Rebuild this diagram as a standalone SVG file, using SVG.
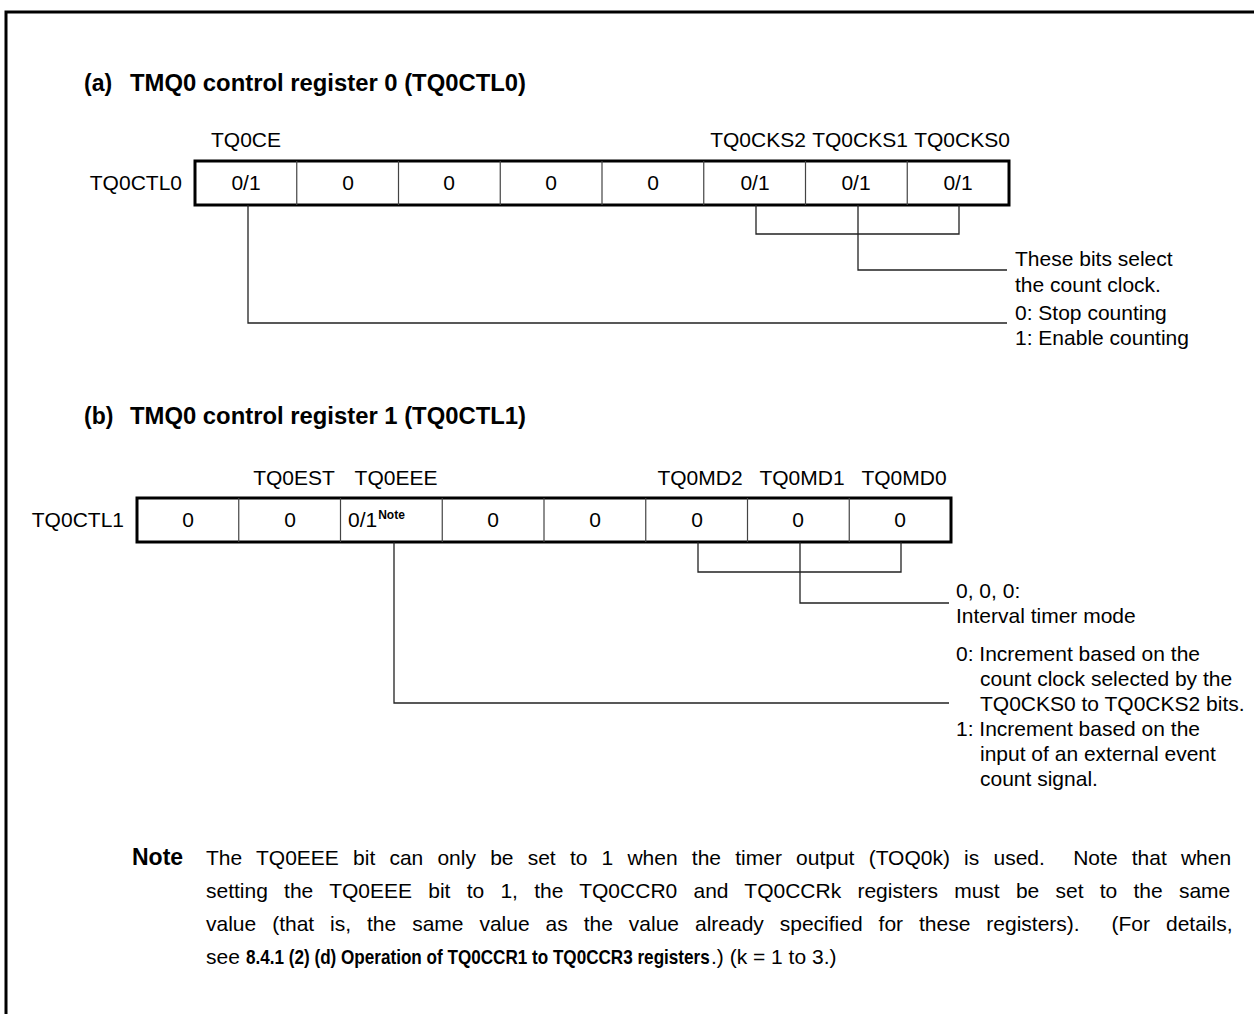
<svg xmlns="http://www.w3.org/2000/svg" width="1254" height="1014" viewBox="0 0 1254 1014">
<style>
text{font-family:"Liberation Sans",Arial,sans-serif;fill:#000}
.h{font-size:23px;font-weight:bold}
.l{font-size:21px}
.c{font-size:21px;text-anchor:middle}
.r{font-size:21px;text-anchor:end}
.n{font-size:21px}
.b{font-weight:bold}
.nb{font-size:23px;font-weight:bold}
.sup{font-size:12px;font-weight:bold}
.box{fill:#fff;stroke:#000;stroke-width:3}
.div{stroke:#444;stroke-width:1.2}
.con{fill:none;stroke:#222;stroke-width:1.3}
</style>
<rect width="1254" height="1014" fill="#fff"/>
<path d="M6,1014 V12 H1254" fill="none" stroke="#000" stroke-width="3"/>

<g id="headerA">
<text class="h" x="84" y="91">(a)</text>
<text class="h" x="130" y="91" textLength="396" lengthAdjust="spacingAndGlyphs">TMQ0 control register 0 (TQ0CTL0)</text>
</g>

<g id="regA">
<text class="c" x="246" y="147">TQ0CE</text>
<text class="c" x="758" y="147">TQ0CKS2</text>
<text class="c" x="860" y="147">TQ0CKS1</text>
<text class="c" x="962" y="147">TQ0CKS0</text>
<text class="r" x="182" y="190">TQ0CTL0</text>
<rect class="box" x="195" y="161" width="814" height="44"/>
<path class="div" d="M296.75,161V205M398.5,161V205M500.25,161V205M602,161V205M703.75,161V205M805.5,161V205M907.25,161V205"/>
<text class="c" x="246" y="190">0/1</text>
<text class="c" x="348" y="190">0</text>
<text class="c" x="449" y="190">0</text>
<text class="c" x="551" y="190">0</text>
<text class="c" x="653" y="190">0</text>
<text class="c" x="755" y="190">0/1</text>
<text class="c" x="856" y="190">0/1</text>
<text class="c" x="958" y="190">0/1</text>
</g>

<g id="descA">
<text class="l" x="1015" y="266">These bits select</text>
<text class="l" x="1015" y="292">the count clock.</text>
<text class="l" x="1015" y="320">0: Stop counting</text>
<text class="l" x="1015" y="345">1: Enable counting</text>
</g>

<g id="headerB">
<text class="h" x="84" y="424">(b)</text>
<text class="h" x="130" y="424" textLength="396" lengthAdjust="spacingAndGlyphs">TMQ0 control register 1 (TQ0CTL1)</text>
</g>

<g id="regB">
<text class="c" x="294" y="485">TQ0EST</text>
<text class="c" x="396" y="485">TQ0EEE</text>
<text class="c" x="700" y="485">TQ0MD2</text>
<text class="c" x="802" y="485">TQ0MD1</text>
<text class="c" x="904" y="485">TQ0MD0</text>
<text class="r" x="124" y="527">TQ0CTL1</text>
<rect class="box" x="137" y="498" width="814" height="44"/>
<path class="div" d="M238.75,498V542M340.5,498V542M442.25,498V542M544,498V542M645.75,498V542M747.5,498V542M849.25,498V542"/>
<text class="c" x="188" y="527">0</text>
<text class="c" x="290" y="527">0</text>
<text class="l" x="348" y="527">0/1<tspan class="sup" dx="1" dy="-8">Note</tspan></text>
<text class="c" x="493" y="527">0</text>
<text class="c" x="595" y="527">0</text>
<text class="c" x="697" y="527">0</text>
<text class="c" x="798" y="527">0</text>
<text class="c" x="900" y="527">0</text>
</g>

<g id="descB">
<text class="l" x="956" y="598">0, 0, 0:</text>
<text class="l" x="956" y="623">Interval timer mode</text>
<text class="l" x="956" y="661">0: Increment based on the</text>
<text class="l" x="980" y="686">count clock selected by the</text>
<text class="l" x="980" y="711">TQ0CKS0 to TQ0CKS2 bits.</text>
<text class="l" x="956" y="736">1: Increment based on the</text>
<text class="l" x="980" y="761">input of an external event</text>
<text class="l" x="980" y="786">count signal.</text>
</g>

<g id="connectors">
<path class="con" d="M756,205V234H959V205"/>
<path class="con" d="M858,205V270H1007"/>
<path class="con" d="M248,205V323H1007"/>
<path class="con" d="M698,542V572H901V542"/>
<path class="con" d="M800,542V603H949"/>
<path class="con" d="M394,542V703H949"/>
</g>

<g id="note">
<text class="nb" x="132" y="865">Note</text>
<text class="n" x="206" y="865" xml:space="preserve" style="word-spacing:8.35px">The TQ0EEE bit can only be set to 1 when the timer output (TOQ0k) is used.  Note that when</text>
<text class="n" x="206" y="898" style="word-spacing:10.4px">setting the TQ0EEE bit to 1, the TQ0CCR0 and TQ0CCRk registers must be set to the same</text>
<text class="n" x="206" y="931" xml:space="preserve" style="word-spacing:10.1px">value (that is, the same value as the value already specified for these registers).  (For details,</text>
<text class="n" x="206" y="964">see</text>
<text class="n b" transform="translate(246 964) scale(0.815 1)">8.4.1 (2) (d) Operation of TQ0CCR1 to TQ0CCR3 registers</text>
<text class="n" x="711" y="964" xml:space="preserve">.) (k = 1 to 3.)</text>
</g>
</svg>
